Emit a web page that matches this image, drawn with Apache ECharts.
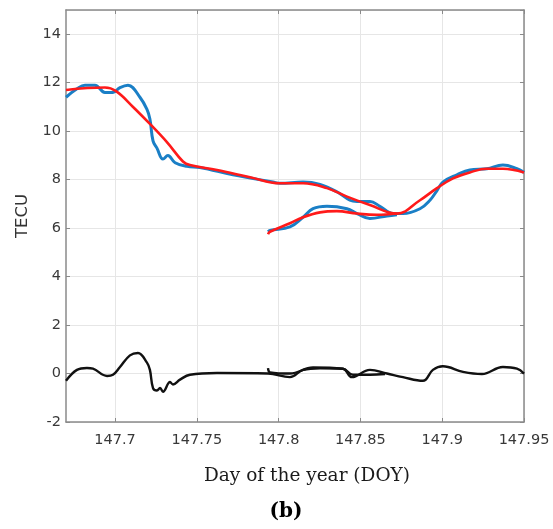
<!DOCTYPE html>
<html>
<head>
<meta charset="utf-8">
<script src="https://cdn.jsdelivr.net/npm/echarts@6/dist/echarts.min.js"></script>
<style>
  html, body { margin: 0; padding: 0; background: #fff; }
  #chart { width: 553px; height: 529px; }
</style>
</head>
<body>
<div id="chart"></div>
<script>
// values: [DOY, TECU]
var blueMain = [
    [147.670, 11.4], [147.6767, 11.75], [147.6816, 11.9], [147.6877, 11.9], [147.6938, 11.6],
    [147.6987, 11.6], [147.7030, 11.8], [147.7079, 11.9], [147.7152, 11.4], [147.7195, 10.9],
    [147.7213, 10.5], [147.7232, 9.6], [147.7256, 9.3], [147.7293, 8.85], [147.7323, 9.0],
    [147.7367, 8.7], [147.7440, 8.55], [147.7519, 8.5], [147.7721, 8.2], [147.7965, 7.9],
    [147.8008, 7.85], [147.8149, 7.9], [147.8253, 7.8], [147.8356, 7.5], [147.8436, 7.15],
    [147.8479, 7.1], [147.8558, 7.1], [147.8619, 6.9], [147.8699, 6.6], [147.8760, 6.6],
    [147.8864, 6.8], [147.8925, 7.15], [147.8968, 7.55], [147.9004, 7.9], [147.9090, 8.2],
    [147.9169, 8.4], [147.9273, 8.45], [147.9371, 8.6], [147.9457, 8.45], [147.95, 8.3]
];
var blueSecond = [
    [147.7935, 5.85], [147.7947, 5.9], [147.8069, 6.05], [147.8149, 6.45], [147.8210, 6.8],
    [147.8295, 6.9], [147.8418, 6.8], [147.8479, 6.6], [147.8558, 6.4], [147.8662, 6.5],
    [147.8723, 6.55]
];
var redMain = [
    [147.670, 11.7], [147.6938, 11.8], [147.7006, 11.65], [147.7110, 11.0], [147.7213, 10.3],
    [147.7317, 9.55], [147.7415, 8.75], [147.7458, 8.6], [147.7623, 8.4], [147.7825, 8.1],
    [147.8008, 7.85], [147.8149, 7.85], [147.8295, 7.65], [147.8418, 7.3], [147.8558, 6.95],
    [147.8723, 6.6], [147.8864, 7.15], [147.8968, 7.65], [147.9066, 8.05], [147.9169, 8.3],
    [147.9273, 8.45], [147.9371, 8.45], [147.95, 8.3]
];
var redSecond = [
    [147.7935, 5.75], [147.7947, 5.85], [147.8069, 6.2], [147.8149, 6.45], [147.8253, 6.65],
    [147.8356, 6.7], [147.8479, 6.6], [147.8601, 6.55], [147.8723, 6.6]
];
var blackMain = [
    [147.670, -0.3], [147.6767, 0.15], [147.6828, 0.23], [147.6865, 0.2], [147.6951, -0.1],
    [147.6987, -0.05], [147.7030, 0.27], [147.7091, 0.75], [147.7140, 0.85], [147.7195, 0.45],
    [147.7213, 0.15], [147.7232, -0.6], [147.7256, -0.7], [147.7275, -0.6], [147.7293, -0.75],
    [147.7336, -0.35], [147.7354, -0.45], [147.7397, -0.25], [147.7458, -0.05], [147.7623, 0.02],
    [147.7935, 0.0], [147.8069, -0.15], [147.8149, 0.15], [147.8253, 0.22], [147.8393, 0.2],
    [147.8448, -0.15], [147.8558, 0.15], [147.8662, 0.0], [147.8760, -0.15], [147.8882, -0.3],
    [147.8943, 0.15], [147.9004, 0.3], [147.9127, 0.07], [147.9243, -0.02], [147.9371, 0.27],
    [147.9457, 0.2], [147.95, 0.0]
];
var blackSecond = [
    [147.7935, 0.22], [147.7947, 0.05], [147.8069, 0.0], [147.8210, 0.25], [147.8393, 0.2],
    [147.8454, -0.05], [147.8558, -0.05], [147.8650, -0.02]
];
var xTicks = [147.7, 147.75, 147.8, 147.85, 147.9, 147.95];

var chart = echarts.init(document.getElementById('chart'));

var gridColor = '#e6e6e6';
var boxColor = '#8a8a8a';
var labelFont = 'DejaVu Sans';

function lineSeries(data, color, width) {
    return {
        type: 'line',
        data: data,
        smooth: 0.4,
        symbol: 'none',
        lineStyle: { color: color, width: width },
        xAxisIndex: 0,
        yAxisIndex: 0,
        z: 3
    };
}

var option = {
    backgroundColor: '#fff',
    animation: false,
    grid: { left: 66, right: 29, top: 10, bottom: 107, containLabel: false },
    xAxis: [
        {
            type: 'value',
            min: 147.67,
            max: 147.95,
            position: 'bottom',
            axisLine: { show: true, onZero: false, lineStyle: { color: boxColor, width: 1.5 } },
            axisTick: { show: true, inside: true, length: 4, lineStyle: { color: boxColor },
                customValues: xTicks },
            axisLabel: { color: '#383838', fontFamily: labelFont, fontSize: 14.5, margin: 11,
                customValues: xTicks,
                formatter: function (v) { return String(+v.toFixed(2)); } },
            splitLine: { show: true, lineStyle: { color: gridColor } }
        },
        {
            type: 'value',
            min: 147.67,
            max: 147.95,
            position: 'top',
            axisLine: { show: true, onZero: false, lineStyle: { color: boxColor, width: 1.5 } },
            axisTick: { show: true, inside: true, length: 4, lineStyle: { color: boxColor },
                customValues: xTicks },
            axisLabel: { show: false },
            splitLine: { show: false }
        }
    ],
    yAxis: [
        {
            type: 'value',
            min: -2,
            max: 15,
            interval: 2,
            position: 'left',
            axisLine: { show: true, onZero: false, lineStyle: { color: boxColor, width: 1.5 } },
            axisTick: { show: true, inside: true, length: 4, lineStyle: { color: boxColor } },
            axisLabel: { color: '#383838', fontFamily: labelFont, fontSize: 14.5, margin: 5,
                showMaxLabel: false },
            splitLine: { show: true, lineStyle: { color: gridColor } },
            name: 'TECU',
            nameLocation: 'middle',
            nameGap: 33,
            nameTextStyle: { color: '#333', fontFamily: labelFont, fontSize: 16.5 }
        },
        {
            type: 'value',
            min: -2,
            max: 15,
            interval: 2,
            position: 'right',
            axisLine: { show: true, onZero: false, lineStyle: { color: boxColor, width: 1.5 } },
            axisTick: { show: true, inside: true, length: 4, lineStyle: { color: boxColor } },
            axisLabel: { show: false },
            splitLine: { show: false }
        }
    ],
    series: [
        lineSeries(blueMain, '#1a7fc6', 3),
        lineSeries(blueSecond, '#1a7fc6', 3),
        lineSeries(redMain, '#ff1a1a', 2.6),
        lineSeries(redSecond, '#ff1a1a', 2.6),
        lineSeries(blackMain, '#111', 2.4),
        lineSeries(blackSecond, '#111', 2.4)
    ],
    graphic: [
        {
            type: 'text',
            x: 307,
            y: 476,
            style: { text: 'Day of the year (DOY)', fill: '#1a1a1a', align: 'center',
                verticalAlign: 'middle', font: '18.5px "DejaVu Serif"' }
        },
        {
            type: 'text',
            x: 286,
            y: 512,
            style: { text: '(b)', fill: '#000', align: 'center', verticalAlign: 'middle',
                font: 'bold 20px "DejaVu Serif"' }
        }
    ]
};

chart.setOption(option);
</script>
</body>
</html>
